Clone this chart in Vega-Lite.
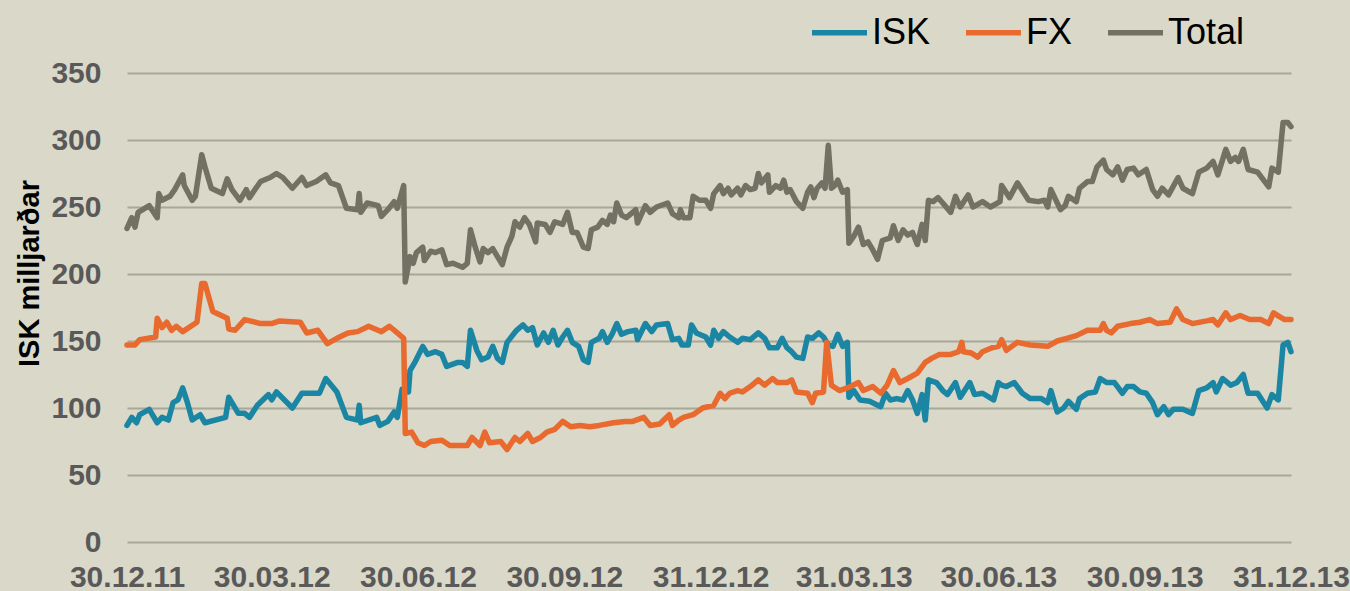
{
"$schema": "https://vega.github.io/schema/vega-lite/v6.json",
"width": 1164,
"height": 469,
"autosize": {"type": "none"},
"padding": {"left": 127, "top": 73, "right": 59, "bottom": 49},
"background": "#DAD8C8",
"config": {"view": {"stroke": null}, "font": "Liberation Sans"},
"data": {"values": [
{"date":"2011-12-30","series":"ISK","value":87},{"date":"2012-01-02","series":"ISK","value":93},{"date":"2012-01-05","series":"ISK","value":89},{"date":"2012-01-07","series":"ISK","value":95},{"date":"2012-01-13","series":"ISK","value":99},{"date":"2012-01-18","series":"ISK","value":89},{"date":"2012-01-21","series":"ISK","value":93},{"date":"2012-01-25","series":"ISK","value":91},{"date":"2012-01-28","series":"ISK","value":104},{"date":"2012-01-31","series":"ISK","value":106},{"date":"2012-02-03","series":"ISK","value":115},{"date":"2012-02-06","series":"ISK","value":104},{"date":"2012-02-09","series":"ISK","value":91},{"date":"2012-02-14","series":"ISK","value":95},{"date":"2012-02-17","series":"ISK","value":89},{"date":"2012-03-01","series":"ISK","value":93},{"date":"2012-03-03","series":"ISK","value":108},{"date":"2012-03-09","series":"ISK","value":96},{"date":"2012-03-13","series":"ISK","value":96},{"date":"2012-03-16","series":"ISK","value":93},{"date":"2012-03-21","series":"ISK","value":102},{"date":"2012-03-28","series":"ISK","value":110},{"date":"2012-03-30","series":"ISK","value":106},{"date":"2012-04-02","series":"ISK","value":112},{"date":"2012-04-12","series":"ISK","value":100},{"date":"2012-04-18","series":"ISK","value":111},{"date":"2012-04-29","series":"ISK","value":111},{"date":"2012-05-03","series":"ISK","value":122},{"date":"2012-05-10","series":"ISK","value":112},{"date":"2012-05-16","series":"ISK","value":93},{"date":"2012-05-23","series":"ISK","value":91},{"date":"2012-05-24","series":"ISK","value":102},{"date":"2012-05-25","series":"ISK","value":89},{"date":"2012-06-04","series":"ISK","value":93},{"date":"2012-06-06","series":"ISK","value":87},{"date":"2012-06-11","series":"ISK","value":90},{"date":"2012-06-15","series":"ISK","value":97},{"date":"2012-06-17","series":"ISK","value":93},{"date":"2012-06-20","series":"ISK","value":114},{"date":"2012-06-24","series":"ISK","value":112},{"date":"2012-06-25","series":"ISK","value":128},{"date":"2012-06-28","series":"ISK","value":134},{"date":"2012-07-03","series":"ISK","value":146},{"date":"2012-07-06","series":"ISK","value":140},{"date":"2012-07-11","series":"ISK","value":142},{"date":"2012-07-15","series":"ISK","value":140},{"date":"2012-07-18","series":"ISK","value":131},{"date":"2012-07-25","series":"ISK","value":134},{"date":"2012-07-28","series":"ISK","value":134},{"date":"2012-07-31","series":"ISK","value":131},{"date":"2012-08-02","series":"ISK","value":158},{"date":"2012-08-06","series":"ISK","value":143},{"date":"2012-08-09","series":"ISK","value":136},{"date":"2012-08-13","series":"ISK","value":138},{"date":"2012-08-16","series":"ISK","value":146},{"date":"2012-08-19","series":"ISK","value":137},{"date":"2012-08-22","series":"ISK","value":134},{"date":"2012-08-25","series":"ISK","value":149},{"date":"2012-08-29","series":"ISK","value":155},{"date":"2012-08-31","series":"ISK","value":158},{"date":"2012-09-04","series":"ISK","value":162},{"date":"2012-09-07","series":"ISK","value":158},{"date":"2012-09-10","series":"ISK","value":160},{"date":"2012-09-13","series":"ISK","value":147},{"date":"2012-09-17","series":"ISK","value":156},{"date":"2012-09-20","series":"ISK","value":149},{"date":"2012-09-23","series":"ISK","value":158},{"date":"2012-09-26","series":"ISK","value":147},{"date":"2012-09-29","series":"ISK","value":153},{"date":"2012-10-02","series":"ISK","value":158},{"date":"2012-10-05","series":"ISK","value":149},{"date":"2012-10-09","series":"ISK","value":146},{"date":"2012-10-12","series":"ISK","value":136},{"date":"2012-10-15","series":"ISK","value":134},{"date":"2012-10-17","series":"ISK","value":149},{"date":"2012-10-22","series":"ISK","value":152},{"date":"2012-10-24","series":"ISK","value":157},{"date":"2012-10-27","series":"ISK","value":149},{"date":"2012-10-30","series":"ISK","value":155},{"date":"2012-11-02","series":"ISK","value":163},{"date":"2012-11-05","series":"ISK","value":155},{"date":"2012-11-09","series":"ISK","value":157},{"date":"2012-11-14","series":"ISK","value":158},{"date":"2012-11-15","series":"ISK","value":151},{"date":"2012-11-20","series":"ISK","value":163},{"date":"2012-11-24","series":"ISK","value":157},{"date":"2012-11-27","series":"ISK","value":162},{"date":"2012-12-04","series":"ISK","value":163},{"date":"2012-12-07","series":"ISK","value":151},{"date":"2012-12-11","series":"ISK","value":152},{"date":"2012-12-13","series":"ISK","value":147},{"date":"2012-12-17","series":"ISK","value":147},{"date":"2012-12-19","series":"ISK","value":162},{"date":"2012-12-22","series":"ISK","value":156},{"date":"2012-12-28","series":"ISK","value":153},{"date":"2012-12-31","series":"ISK","value":147},{"date":"2013-01-02","series":"ISK","value":158},{"date":"2013-01-05","series":"ISK","value":152},{"date":"2013-01-08","series":"ISK","value":157},{"date":"2013-01-12","series":"ISK","value":153},{"date":"2013-01-17","series":"ISK","value":149},{"date":"2013-01-20","series":"ISK","value":152},{"date":"2013-01-25","series":"ISK","value":151},{"date":"2013-01-30","series":"ISK","value":156},{"date":"2013-02-03","series":"ISK","value":152},{"date":"2013-02-06","series":"ISK","value":145},{"date":"2013-02-11","series":"ISK","value":145},{"date":"2013-02-14","series":"ISK","value":152},{"date":"2013-02-17","series":"ISK","value":145},{"date":"2013-02-20","series":"ISK","value":142},{"date":"2013-02-23","series":"ISK","value":138},{"date":"2013-02-27","series":"ISK","value":137},{"date":"2013-03-02","series":"ISK","value":153},{"date":"2013-03-05","series":"ISK","value":152},{"date":"2013-03-09","series":"ISK","value":156},{"date":"2013-03-12","series":"ISK","value":153},{"date":"2013-03-15","series":"ISK","value":147},{"date":"2013-03-18","series":"ISK","value":146},{"date":"2013-03-21","series":"ISK","value":155},{"date":"2013-03-24","series":"ISK","value":146},{"date":"2013-03-27","series":"ISK","value":149},{"date":"2013-03-28","series":"ISK","value":108},{"date":"2013-03-31","series":"ISK","value":113},{"date":"2013-04-04","series":"ISK","value":106},{"date":"2013-04-10","series":"ISK","value":105},{"date":"2013-04-17","series":"ISK","value":101},{"date":"2013-04-20","series":"ISK","value":111},{"date":"2013-04-23","series":"ISK","value":106},{"date":"2013-04-27","series":"ISK","value":107},{"date":"2013-05-01","series":"ISK","value":106},{"date":"2013-05-04","series":"ISK","value":113},{"date":"2013-05-07","series":"ISK","value":106},{"date":"2013-05-10","series":"ISK","value":96},{"date":"2013-05-13","series":"ISK","value":110},{"date":"2013-05-15","series":"ISK","value":91},{"date":"2013-05-17","series":"ISK","value":121},{"date":"2013-05-22","series":"ISK","value":119},{"date":"2013-05-26","series":"ISK","value":113},{"date":"2013-05-29","series":"ISK","value":110},{"date":"2013-06-03","series":"ISK","value":119},{"date":"2013-06-06","series":"ISK","value":108},{"date":"2013-06-12","series":"ISK","value":119},{"date":"2013-06-15","series":"ISK","value":110},{"date":"2013-06-20","series":"ISK","value":111},{"date":"2013-06-27","series":"ISK","value":106},{"date":"2013-06-30","series":"ISK","value":119},{"date":"2013-07-02","series":"ISK","value":117},{"date":"2013-07-05","series":"ISK","value":116},{"date":"2013-07-10","series":"ISK","value":119},{"date":"2013-07-15","series":"ISK","value":111},{"date":"2013-07-20","series":"ISK","value":107},{"date":"2013-07-27","series":"ISK","value":107},{"date":"2013-07-31","series":"ISK","value":104},{"date":"2013-08-02","series":"ISK","value":113},{"date":"2013-08-06","series":"ISK","value":97},{"date":"2013-08-10","series":"ISK","value":100},{"date":"2013-08-13","series":"ISK","value":105},{"date":"2013-08-18","series":"ISK","value":99},{"date":"2013-08-20","series":"ISK","value":107},{"date":"2013-08-25","series":"ISK","value":111},{"date":"2013-08-30","series":"ISK","value":112},{"date":"2013-09-02","series":"ISK","value":122},{"date":"2013-09-06","series":"ISK","value":119},{"date":"2013-09-11","series":"ISK","value":119},{"date":"2013-09-16","series":"ISK","value":111},{"date":"2013-09-19","series":"ISK","value":116},{"date":"2013-09-23","series":"ISK","value":116},{"date":"2013-09-27","series":"ISK","value":112},{"date":"2013-10-01","series":"ISK","value":111},{"date":"2013-10-05","series":"ISK","value":104},{"date":"2013-10-08","series":"ISK","value":95},{"date":"2013-10-12","series":"ISK","value":101},{"date":"2013-10-15","series":"ISK","value":95},{"date":"2013-10-18","series":"ISK","value":99},{"date":"2013-10-24","series":"ISK","value":99},{"date":"2013-10-30","series":"ISK","value":96},{"date":"2013-11-03","series":"ISK","value":113},{"date":"2013-11-08","series":"ISK","value":115},{"date":"2013-11-12","series":"ISK","value":119},{"date":"2013-11-14","series":"ISK","value":112},{"date":"2013-11-18","series":"ISK","value":122},{"date":"2013-11-23","series":"ISK","value":117},{"date":"2013-11-27","series":"ISK","value":119},{"date":"2013-12-01","series":"ISK","value":125},{"date":"2013-12-04","series":"ISK","value":111},{"date":"2013-12-10","series":"ISK","value":111},{"date":"2013-12-16","series":"ISK","value":100},{"date":"2013-12-19","series":"ISK","value":110},{"date":"2013-12-23","series":"ISK","value":106},{"date":"2013-12-26","series":"ISK","value":147},{"date":"2013-12-29","series":"ISK","value":149},{"date":"2013-12-31","series":"ISK","value":142},
{"date":"2011-12-30","series":"FX","value":147},{"date":"2012-01-04","series":"FX","value":147},{"date":"2012-01-07","series":"FX","value":151},{"date":"2012-01-17","series":"FX","value":153},{"date":"2012-01-18","series":"FX","value":167},{"date":"2012-01-21","series":"FX","value":160},{"date":"2012-01-24","series":"FX","value":164},{"date":"2012-01-27","series":"FX","value":158},{"date":"2012-01-30","series":"FX","value":161},{"date":"2012-02-03","series":"FX","value":157},{"date":"2012-02-12","series":"FX","value":164},{"date":"2012-02-15","series":"FX","value":193},{"date":"2012-02-17","series":"FX","value":193},{"date":"2012-02-22","series":"FX","value":172},{"date":"2012-03-02","series":"FX","value":167},{"date":"2012-03-03","series":"FX","value":159},{"date":"2012-03-07","series":"FX","value":158},{"date":"2012-03-13","series":"FX","value":166},{"date":"2012-03-23","series":"FX","value":163},{"date":"2012-03-30","series":"FX","value":163},{"date":"2012-04-04","series":"FX","value":165},{"date":"2012-04-17","series":"FX","value":164},{"date":"2012-04-21","series":"FX","value":156},{"date":"2012-04-28","series":"FX","value":158},{"date":"2012-05-04","series":"FX","value":148},{"date":"2012-05-10","series":"FX","value":152},{"date":"2012-05-17","series":"FX","value":156},{"date":"2012-05-23","series":"FX","value":157},{"date":"2012-05-30","series":"FX","value":161},{"date":"2012-06-03","series":"FX","value":159},{"date":"2012-06-07","series":"FX","value":157},{"date":"2012-06-12","series":"FX","value":161},{"date":"2012-06-17","series":"FX","value":156},{"date":"2012-06-21","series":"FX","value":152},{"date":"2012-06-22","series":"FX","value":81},{"date":"2012-06-26","series":"FX","value":82},{"date":"2012-06-30","series":"FX","value":74},{"date":"2012-07-04","series":"FX","value":72},{"date":"2012-07-08","series":"FX","value":75},{"date":"2012-07-15","series":"FX","value":76},{"date":"2012-07-20","series":"FX","value":72},{"date":"2012-07-31","series":"FX","value":72},{"date":"2012-08-03","series":"FX","value":78},{"date":"2012-08-08","series":"FX","value":72},{"date":"2012-08-11","series":"FX","value":82},{"date":"2012-08-14","series":"FX","value":74},{"date":"2012-08-21","series":"FX","value":75},{"date":"2012-08-25","series":"FX","value":69},{"date":"2012-08-30","series":"FX","value":78},{"date":"2012-09-02","series":"FX","value":75},{"date":"2012-09-07","series":"FX","value":81},{"date":"2012-09-10","series":"FX","value":75},{"date":"2012-09-15","series":"FX","value":78},{"date":"2012-09-19","series":"FX","value":82},{"date":"2012-09-24","series":"FX","value":84},{"date":"2012-09-29","series":"FX","value":90},{"date":"2012-10-04","series":"FX","value":86},{"date":"2012-10-10","series":"FX","value":87},{"date":"2012-10-16","series":"FX","value":86},{"date":"2012-10-22","series":"FX","value":87},{"date":"2012-10-31","series":"FX","value":89},{"date":"2012-11-07","series":"FX","value":90},{"date":"2012-11-12","series":"FX","value":90},{"date":"2012-11-19","series":"FX","value":93},{"date":"2012-11-23","series":"FX","value":87},{"date":"2012-11-29","series":"FX","value":88},{"date":"2012-12-05","series":"FX","value":95},{"date":"2012-12-07","series":"FX","value":87},{"date":"2012-12-11","series":"FX","value":91},{"date":"2012-12-14","series":"FX","value":93},{"date":"2012-12-20","series":"FX","value":95},{"date":"2012-12-26","series":"FX","value":100},{"date":"2013-01-02","series":"FX","value":102},{"date":"2013-01-06","series":"FX","value":111},{"date":"2013-01-09","series":"FX","value":107},{"date":"2013-01-12","series":"FX","value":111},{"date":"2013-01-17","series":"FX","value":113},{"date":"2013-01-20","series":"FX","value":112},{"date":"2013-01-25","series":"FX","value":116},{"date":"2013-01-30","series":"FX","value":121},{"date":"2013-02-03","series":"FX","value":117},{"date":"2013-02-08","series":"FX","value":122},{"date":"2013-02-11","series":"FX","value":119},{"date":"2013-02-17","series":"FX","value":119},{"date":"2013-02-20","series":"FX","value":121},{"date":"2013-02-23","series":"FX","value":112},{"date":"2013-03-02","series":"FX","value":111},{"date":"2013-03-05","series":"FX","value":104},{"date":"2013-03-07","series":"FX","value":111},{"date":"2013-03-12","series":"FX","value":112},{"date":"2013-03-14","series":"FX","value":149},{"date":"2013-03-17","series":"FX","value":117},{"date":"2013-03-22","series":"FX","value":113},{"date":"2013-03-27","series":"FX","value":115},{"date":"2013-04-03","series":"FX","value":119},{"date":"2013-04-06","series":"FX","value":113},{"date":"2013-04-12","series":"FX","value":116},{"date":"2013-04-17","series":"FX","value":111},{"date":"2013-04-21","series":"FX","value":117},{"date":"2013-04-25","series":"FX","value":128},{"date":"2013-04-29","series":"FX","value":119},{"date":"2013-05-04","series":"FX","value":122},{"date":"2013-05-10","series":"FX","value":126},{"date":"2013-05-15","series":"FX","value":134},{"date":"2013-05-19","series":"FX","value":137},{"date":"2013-05-24","series":"FX","value":140},{"date":"2013-05-31","series":"FX","value":140},{"date":"2013-06-05","series":"FX","value":142},{"date":"2013-06-07","series":"FX","value":149},{"date":"2013-06-08","series":"FX","value":142},{"date":"2013-06-13","series":"FX","value":141},{"date":"2013-06-17","series":"FX","value":138},{"date":"2013-06-20","series":"FX","value":142},{"date":"2013-06-26","series":"FX","value":145},{"date":"2013-06-30","series":"FX","value":146},{"date":"2013-07-02","series":"FX","value":151},{"date":"2013-07-05","series":"FX","value":143},{"date":"2013-07-12","series":"FX","value":149},{"date":"2013-07-20","series":"FX","value":147},{"date":"2013-07-31","series":"FX","value":146},{"date":"2013-08-06","series":"FX","value":150},{"date":"2013-08-12","series":"FX","value":152},{"date":"2013-08-18","series":"FX","value":154},{"date":"2013-08-25","series":"FX","value":158},{"date":"2013-09-02","series":"FX","value":158},{"date":"2013-09-04","series":"FX","value":163},{"date":"2013-09-06","series":"FX","value":158},{"date":"2013-09-09","series":"FX","value":156},{"date":"2013-09-13","series":"FX","value":161},{"date":"2013-09-21","series":"FX","value":163},{"date":"2013-09-27","series":"FX","value":164},{"date":"2013-10-03","series":"FX","value":166},{"date":"2013-10-08","series":"FX","value":163},{"date":"2013-10-16","series":"FX","value":164},{"date":"2013-10-20","series":"FX","value":174},{"date":"2013-10-24","series":"FX","value":166},{"date":"2013-10-30","series":"FX","value":163},{"date":"2013-11-08","series":"FX","value":165},{"date":"2013-11-12","series":"FX","value":166},{"date":"2013-11-15","series":"FX","value":162},{"date":"2013-11-20","series":"FX","value":171},{"date":"2013-11-23","series":"FX","value":166},{"date":"2013-11-29","series":"FX","value":169},{"date":"2013-12-05","series":"FX","value":166},{"date":"2013-12-12","series":"FX","value":166},{"date":"2013-12-17","series":"FX","value":163},{"date":"2013-12-20","series":"FX","value":171},{"date":"2013-12-24","series":"FX","value":168},{"date":"2013-12-27","series":"FX","value":166},{"date":"2013-12-31","series":"FX","value":166},
{"date":"2011-12-30","series":"Total","value":234},{"date":"2012-01-02","series":"Total","value":242},{"date":"2012-01-04","series":"Total","value":235},{"date":"2012-01-06","series":"Total","value":246},{"date":"2012-01-13","series":"Total","value":251},{"date":"2012-01-18","series":"Total","value":242},{"date":"2012-01-19","series":"Total","value":260},{"date":"2012-01-21","series":"Total","value":255},{"date":"2012-01-26","series":"Total","value":258},{"date":"2012-01-29","series":"Total","value":263},{"date":"2012-02-03","series":"Total","value":274},{"date":"2012-02-04","series":"Total","value":266},{"date":"2012-02-09","series":"Total","value":255},{"date":"2012-02-11","series":"Total","value":258},{"date":"2012-02-15","series":"Total","value":289},{"date":"2012-02-17","series":"Total","value":280},{"date":"2012-02-21","series":"Total","value":264},{"date":"2012-02-28","series":"Total","value":260},{"date":"2012-03-02","series":"Total","value":271},{"date":"2012-03-05","series":"Total","value":263},{"date":"2012-03-10","series":"Total","value":255},{"date":"2012-03-14","series":"Total","value":263},{"date":"2012-03-16","series":"Total","value":257},{"date":"2012-03-23","series":"Total","value":269},{"date":"2012-03-29","series":"Total","value":272},{"date":"2012-04-02","series":"Total","value":275},{"date":"2012-04-06","series":"Total","value":272},{"date":"2012-04-12","series":"Total","value":264},{"date":"2012-04-18","series":"Total","value":272},{"date":"2012-04-21","series":"Total","value":266},{"date":"2012-04-27","series":"Total","value":269},{"date":"2012-05-03","series":"Total","value":274},{"date":"2012-05-06","series":"Total","value":268},{"date":"2012-05-11","series":"Total","value":266},{"date":"2012-05-16","series":"Total","value":249},{"date":"2012-05-23","series":"Total","value":248},{"date":"2012-05-24","series":"Total","value":260},{"date":"2012-05-25","series":"Total","value":246},{"date":"2012-05-29","series":"Total","value":253},{"date":"2012-06-05","series":"Total","value":251},{"date":"2012-06-07","series":"Total","value":243},{"date":"2012-06-11","series":"Total","value":248},{"date":"2012-06-15","series":"Total","value":254},{"date":"2012-06-17","series":"Total","value":249},{"date":"2012-06-21","series":"Total","value":266},{"date":"2012-06-22","series":"Total","value":194},{"date":"2012-06-25","series":"Total","value":213},{"date":"2012-06-27","series":"Total","value":208},{"date":"2012-06-29","series":"Total","value":216},{"date":"2012-07-03","series":"Total","value":220},{"date":"2012-07-04","series":"Total","value":210},{"date":"2012-07-08","series":"Total","value":217},{"date":"2012-07-11","series":"Total","value":216},{"date":"2012-07-15","series":"Total","value":218},{"date":"2012-07-18","series":"Total","value":207},{"date":"2012-07-22","series":"Total","value":208},{"date":"2012-07-28","series":"Total","value":205},{"date":"2012-07-31","series":"Total","value":208},{"date":"2012-08-02","series":"Total","value":233},{"date":"2012-08-05","series":"Total","value":220},{"date":"2012-08-08","series":"Total","value":209},{"date":"2012-08-10","series":"Total","value":219},{"date":"2012-08-13","series":"Total","value":216},{"date":"2012-08-16","series":"Total","value":219},{"date":"2012-08-19","series":"Total","value":213},{"date":"2012-08-22","series":"Total","value":207},{"date":"2012-08-25","series":"Total","value":220},{"date":"2012-08-28","series":"Total","value":228},{"date":"2012-08-30","series":"Total","value":239},{"date":"2012-09-02","series":"Total","value":235},{"date":"2012-09-05","series":"Total","value":242},{"date":"2012-09-08","series":"Total","value":237},{"date":"2012-09-12","series":"Total","value":224},{"date":"2012-09-13","series":"Total","value":238},{"date":"2012-09-18","series":"Total","value":237},{"date":"2012-09-21","series":"Total","value":231},{"date":"2012-09-24","series":"Total","value":239},{"date":"2012-09-29","series":"Total","value":237},{"date":"2012-10-02","series":"Total","value":246},{"date":"2012-10-05","series":"Total","value":231},{"date":"2012-10-08","series":"Total","value":231},{"date":"2012-10-12","series":"Total","value":220},{"date":"2012-10-15","series":"Total","value":219},{"date":"2012-10-17","series":"Total","value":233},{"date":"2012-10-21","series":"Total","value":235},{"date":"2012-10-24","series":"Total","value":240},{"date":"2012-10-27","series":"Total","value":237},{"date":"2012-10-29","series":"Total","value":244},{"date":"2012-10-31","series":"Total","value":239},{"date":"2012-11-02","series":"Total","value":253},{"date":"2012-11-05","series":"Total","value":244},{"date":"2012-11-08","series":"Total","value":242},{"date":"2012-11-12","series":"Total","value":246},{"date":"2012-11-14","series":"Total","value":248},{"date":"2012-11-15","series":"Total","value":238},{"date":"2012-11-20","series":"Total","value":251},{"date":"2012-11-23","series":"Total","value":246},{"date":"2012-11-27","series":"Total","value":250},{"date":"2012-12-04","series":"Total","value":253},{"date":"2012-12-07","series":"Total","value":245},{"date":"2012-12-11","series":"Total","value":242},{"date":"2012-12-12","series":"Total","value":248},{"date":"2012-12-14","series":"Total","value":242},{"date":"2012-12-18","series":"Total","value":242},{"date":"2012-12-20","series":"Total","value":258},{"date":"2012-12-24","series":"Total","value":255},{"date":"2012-12-28","series":"Total","value":255},{"date":"2012-12-31","series":"Total","value":249},{"date":"2013-01-02","series":"Total","value":260},{"date":"2013-01-06","series":"Total","value":266},{"date":"2013-01-08","series":"Total","value":260},{"date":"2013-01-11","series":"Total","value":264},{"date":"2013-01-13","series":"Total","value":259},{"date":"2013-01-17","series":"Total","value":264},{"date":"2013-01-19","series":"Total","value":259},{"date":"2013-01-22","series":"Total","value":266},{"date":"2013-01-25","series":"Total","value":263},{"date":"2013-01-28","series":"Total","value":264},{"date":"2013-01-30","series":"Total","value":275},{"date":"2013-02-01","series":"Total","value":268},{"date":"2013-02-05","series":"Total","value":274},{"date":"2013-02-06","series":"Total","value":261},{"date":"2013-02-10","series":"Total","value":266},{"date":"2013-02-13","series":"Total","value":264},{"date":"2013-02-15","series":"Total","value":270},{"date":"2013-02-17","series":"Total","value":261},{"date":"2013-02-19","series":"Total","value":263},{"date":"2013-02-23","series":"Total","value":254},{"date":"2013-02-27","series":"Total","value":249},{"date":"2013-03-02","series":"Total","value":261},{"date":"2013-03-04","series":"Total","value":265},{"date":"2013-03-06","series":"Total","value":257},{"date":"2013-03-08","series":"Total","value":264},{"date":"2013-03-11","series":"Total","value":268},{"date":"2013-03-13","series":"Total","value":264},{"date":"2013-03-15","series":"Total","value":296},{"date":"2013-03-17","series":"Total","value":264},{"date":"2013-03-19","series":"Total","value":266},{"date":"2013-03-21","series":"Total","value":270},{"date":"2013-03-24","series":"Total","value":261},{"date":"2013-03-27","series":"Total","value":263},{"date":"2013-03-28","series":"Total","value":223},{"date":"2013-03-31","series":"Total","value":228},{"date":"2013-04-03","series":"Total","value":235},{"date":"2013-04-06","series":"Total","value":222},{"date":"2013-04-09","series":"Total","value":224},{"date":"2013-04-12","series":"Total","value":218},{"date":"2013-04-15","series":"Total","value":211},{"date":"2013-04-18","series":"Total","value":225},{"date":"2013-04-23","series":"Total","value":227},{"date":"2013-04-25","series":"Total","value":236},{"date":"2013-04-28","series":"Total","value":225},{"date":"2013-05-01","series":"Total","value":233},{"date":"2013-05-04","series":"Total","value":229},{"date":"2013-05-07","series":"Total","value":231},{"date":"2013-05-10","series":"Total","value":222},{"date":"2013-05-13","series":"Total","value":237},{"date":"2013-05-15","series":"Total","value":225},{"date":"2013-05-17","series":"Total","value":255},{"date":"2013-05-20","series":"Total","value":254},{"date":"2013-05-23","series":"Total","value":257},{"date":"2013-05-26","series":"Total","value":253},{"date":"2013-05-31","series":"Total","value":246},{"date":"2013-06-03","series":"Total","value":258},{"date":"2013-06-06","series":"Total","value":250},{"date":"2013-06-11","series":"Total","value":259},{"date":"2013-06-14","series":"Total","value":250},{"date":"2013-06-20","series":"Total","value":254},{"date":"2013-06-25","series":"Total","value":250},{"date":"2013-07-01","series":"Total","value":254},{"date":"2013-07-02","series":"Total","value":266},{"date":"2013-07-07","series":"Total","value":257},{"date":"2013-07-12","series":"Total","value":268},{"date":"2013-07-19","series":"Total","value":255},{"date":"2013-07-25","series":"Total","value":254},{"date":"2013-07-29","series":"Total","value":255},{"date":"2013-07-31","series":"Total","value":250},{"date":"2013-08-02","series":"Total","value":263},{"date":"2013-08-08","series":"Total","value":248},{"date":"2013-08-11","series":"Total","value":251},{"date":"2013-08-13","series":"Total","value":258},{"date":"2013-08-18","series":"Total","value":254},{"date":"2013-08-20","series":"Total","value":264},{"date":"2013-08-25","series":"Total","value":269},{"date":"2013-08-28","series":"Total","value":269},{"date":"2013-08-31","series":"Total","value":280},{"date":"2013-09-04","series":"Total","value":285},{"date":"2013-09-06","series":"Total","value":278},{"date":"2013-09-10","series":"Total","value":274},{"date":"2013-09-13","series":"Total","value":280},{"date":"2013-09-16","series":"Total","value":270},{"date":"2013-09-19","series":"Total","value":278},{"date":"2013-09-23","series":"Total","value":279},{"date":"2013-09-26","series":"Total","value":274},{"date":"2013-10-01","series":"Total","value":278},{"date":"2013-10-05","series":"Total","value":263},{"date":"2013-10-08","series":"Total","value":258},{"date":"2013-10-11","series":"Total","value":264},{"date":"2013-10-15","series":"Total","value":259},{"date":"2013-10-21","series":"Total","value":272},{"date":"2013-10-24","series":"Total","value":264},{"date":"2013-10-30","series":"Total","value":260},{"date":"2013-11-03","series":"Total","value":276},{"date":"2013-11-08","series":"Total","value":279},{"date":"2013-11-12","series":"Total","value":284},{"date":"2013-11-15","series":"Total","value":274},{"date":"2013-11-20","series":"Total","value":293},{"date":"2013-11-23","series":"Total","value":284},{"date":"2013-11-26","series":"Total","value":287},{"date":"2013-11-28","series":"Total","value":284},{"date":"2013-12-01","series":"Total","value":293},{"date":"2013-12-04","series":"Total","value":278},{"date":"2013-12-10","series":"Total","value":276},{"date":"2013-12-17","series":"Total","value":265},{"date":"2013-12-19","series":"Total","value":279},{"date":"2013-12-23","series":"Total","value":276},{"date":"2013-12-26","series":"Total","value":313},{"date":"2013-12-29","series":"Total","value":313},{"date":"2013-12-31","series":"Total","value":310}
]},
"mark": {"type": "line", "strokeWidth": 5.5, "strokeCap": "round", "strokeJoin": "round"},
"encoding": {
"x": {"field": "date", "type": "temporal",
"scale": {"type": "utc", "domain": [{"year": 2011, "month": 12, "date": 30, "utc": true}, {"year": 2013, "month": 12, "date": 31, "utc": true}]},
"axis": {"title": null, "grid": false, "ticks": false, "domain": false,
"values": [
{"year": 2011, "month": 12, "date": 30, "utc": true},
{"year": 2012, "month": 3, "date": 30, "utc": true},
{"year": 2012, "month": 6, "date": 30, "utc": true},
{"year": 2012, "month": 9, "date": 30, "utc": true},
{"year": 2012, "month": 12, "date": 31, "utc": true},
{"year": 2013, "month": 3, "date": 31, "utc": true},
{"year": 2013, "month": 6, "date": 30, "utc": true},
{"year": 2013, "month": 9, "date": 30, "utc": true},
{"year": 2013, "month": 12, "date": 31, "utc": true}],
"labelExpr": "utcFormat(datum.value, '%d.%m.%y')",
"labelFont": "Liberation Sans", "labelFontSize": 30, "labelFontWeight": "bold", "labelColor": "#595959",
"labelPadding": 20, "labelOverlap": false, "labelFlush": false, "labelBound": false}},
"y": {"field": "value", "type": "quantitative",
"scale": {"domain": [0, 350], "nice": false},
"axis": {"title": "ISK milljarðar", "values": [0, 50, 100, 150, 200, 250, 300, 350],
"grid": true, "gridColor": "#A8A898", "gridWidth": 2, "ticks": false, "domain": false,
"labelFont": "Liberation Sans", "labelFontSize": 30, "labelFontWeight": "bold", "labelColor": "#595959", "labelPadding": 26,
"titleFont": "Liberation Sans", "titleFontSize": 29, "titleFontWeight": "bold", "titleColor": "#000000",
"titleAngle": 270, "titleX": -89, "titleY": 200, "titleAlign": "center", "titleBaseline": "alphabetic"}},
"color": {"field": "series", "type": "nominal",
"scale": {"domain": ["ISK", "FX", "Total"], "range": ["#1B86A3", "#E86A2E", "#737163"]},
"legend": {"title": null, "orient": "none", "legendX": 682, "legendY": -71, "direction": "horizontal",
"symbolType": "stroke", "symbolSize": 3025, "symbolStrokeWidth": 5.5,
"labelFont": "Liberation Sans", "labelFontSize": 36, "labelColor": "#000000", "labelOffset": 2,
"columnPadding": 24, "padding": 0}}
}
}
